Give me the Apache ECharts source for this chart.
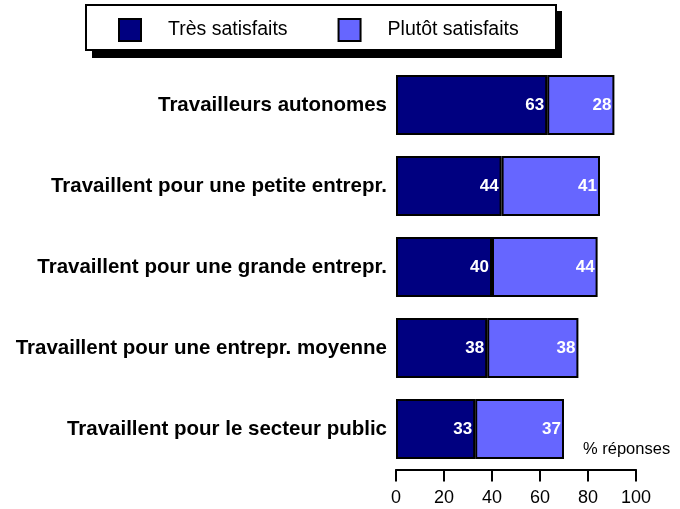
<!DOCTYPE html>
<html>
<head>
<meta charset="utf-8">
<script src="https://cdn.jsdelivr.net/npm/echarts@6/dist/echarts.min.js"></script>
<style>
  html, body { margin: 0; padding: 0; background: #fff; }
  #chart { width: 680px; height: 509px; }
</style>
</head>
<body>
<div id="chart"></div>
<script>
// categories, top to bottom
var categories = [
  "Travailleurs autonomes",
  "Travaillent pour une petite entrepr.",
  "Travaillent pour une grande entrepr.",
  "Travaillent pour une entrepr. moyenne",
  "Travaillent pour le secteur public"
];
var tresSatisfaits = [63, 44, 40, 38, 33];
var plutotSatisfaits = [28, 41, 44, 38, 37];
var xTicks = [0, 20, 40, 60, 80, 100];

var font = "'Liberation Sans', Arial, sans-serif";
var chart = echarts.init(document.getElementById("chart"));

var barLabel = {
  show: true,
  position: "insideRight",
  distance: 3,
  color: "#fff",
  fontWeight: "bold",
  fontSize: 17,
  fontFamily: font
};

var option = {
  animation: false,
  backgroundColor: "#fff",
  graphic: [
    // legend box shadow
    { type: "rect", z: 0, shape: { x: 92, y: 11, width: 470, height: 47 }, style: { fill: "#000" } },
    // legend box
    { type: "rect", z: 1, shape: { x: 86, y: 5, width: 470, height: 45 }, style: { fill: "#fff", stroke: "#000", lineWidth: 2 } },
    {
      type: "text", z: 5, left: 583, top: 441,
      style: { text: "% réponses", font: "16.5px " + font, fill: "#000" }
    }
  ],
  legend: {
    z: 10,
    left: 113,
    top: 13,
    itemWidth: 22,
    itemHeight: 22,
    itemGap: 50,
    icon: "rect",
    textStyle: { fontSize: 19.5, fontFamily: font, color: "#000", padding: [0, 0, 0, 22] },
    data: ["Très satisfaits", "Plutôt satisfaits"]
  },
  grid: { left: 396, top: 64.5, width: 240, height: 405, containLabel: false },
  xAxis: {
    type: "value",
    min: 0,
    max: 100,
    interval: 20,
    axisLine: { show: true, lineStyle: { color: "#000", width: 2 } },
    axisTick: { show: true, length: 12, inside: false, lineStyle: { color: "#000", width: 2 } },
    axisLabel: {
      margin: 20,
      fontSize: 18,
      fontFamily: font,
      color: "#000",
      formatter: function (v) { return xTicks.indexOf(v) >= 0 ? String(v) : ""; }
    },
    splitLine: { show: false }
  },
  yAxis: {
    type: "category",
    inverse: true,
    data: categories,
    axisLine: { show: false },
    axisTick: { show: false },
    axisLabel: {
      margin: 9,
      fontSize: 20.5,
      fontWeight: "bold",
      fontFamily: font,
      color: "#000"
    }
  },
  series: [
    {
      name: "Très satisfaits",
      type: "bar",
      stack: "total",
      barWidth: 60,
      data: tresSatisfaits,
      itemStyle: { color: "#000080", borderColor: "#000", borderWidth: 2 },
      label: barLabel
    },
    {
      name: "Plutôt satisfaits",
      type: "bar",
      stack: "total",
      barWidth: 60,
      data: plutotSatisfaits,
      itemStyle: { color: "#6666ff", borderColor: "#000", borderWidth: 2 },
      label: barLabel
    }
  ]
};
chart.setOption(option);
</script>
</body>
</html>
